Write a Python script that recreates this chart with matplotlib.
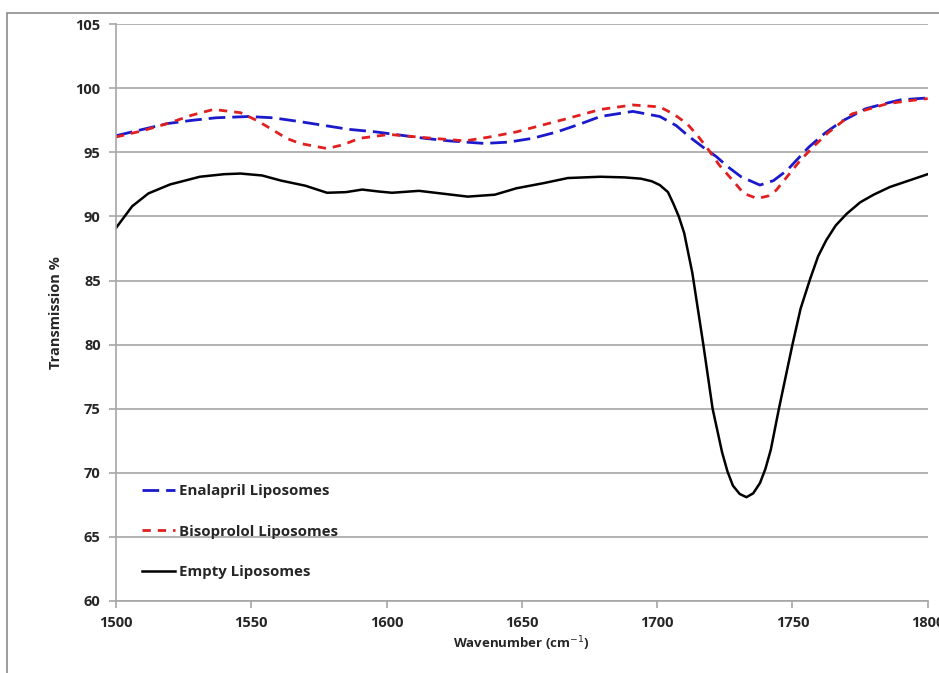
'''
FTIR transmission spectra of liposome formulations.
'''

import matplotlib
matplotlib.use('Agg')
import matplotlib.pyplot as plt
from matplotlib.patches import Rectangle


EMPTY_WN = [1500, 1506, 1512, 1520, 1531, 1540, 1546, 1554, 1561, 1570, 1578,
            1585, 1591, 1597, 1602, 1612, 1620, 1630, 1640, 1648, 1658, 1667,
            1679, 1688, 1694, 1698, 1701, 1704, 1706, 1708, 1710, 1713, 1717,
            1720.5, 1724, 1726, 1728, 1730.5, 1733, 1735.5, 1738, 1740, 1742,
            1745, 1750, 1753, 1756.5, 1759.5, 1762.5, 1766, 1770, 1775, 1780,
            1786, 1793, 1800]
EMPTY_T = [89.1, 90.8, 91.8, 92.5, 93.1, 93.3, 93.35, 93.2, 92.8, 92.4, 91.85,
           91.9, 92.1, 91.95, 91.85, 92.0, 91.8, 91.55, 91.7, 92.2, 92.6, 93.0,
           93.1, 93.05, 92.95, 92.75, 92.45, 91.9, 91.0, 90.0, 88.7, 85.6, 80.1,
           75.0, 71.6, 70.1, 69.0, 68.35, 68.1, 68.4, 69.2, 70.3, 71.8, 75.0,
           80.0, 82.8, 85.1, 86.9, 88.15, 89.3, 90.2, 91.1, 91.7, 92.3, 92.8,
           93.3]

ENALAPRIL_WN = [1500, 1510, 1519, 1528, 1537, 1549, 1558, 1568, 1577, 1586,
                1596, 1605, 1614, 1623, 1636, 1645, 1654, 1663, 1672, 1679,
                1691, 1701, 1707, 1712, 1717, 1722, 1726, 1731, 1738, 1743,
                1748, 1752, 1756, 1762, 1768, 1777, 1784, 1790, 1800]
ENALAPRIL_T = [96.3, 96.8, 97.25, 97.5, 97.7, 97.8, 97.7, 97.4, 97.1, 96.8,
               96.6, 96.35, 96.1, 95.9, 95.7, 95.8, 96.1, 96.6, 97.25, 97.8,
               98.2, 97.8, 97.1, 96.2, 95.4, 94.65, 93.9, 93.1, 92.45, 92.8,
               93.6, 94.5, 95.4, 96.5, 97.4, 98.4, 98.8, 99.1, 99.25]

BISOPROLOL_WN = [1500, 1510, 1519, 1528, 1536, 1546, 1552, 1558, 1563, 1568,
                 1578, 1584, 1590, 1601, 1609, 1617, 1629, 1638, 1648, 1657,
                 1667, 1679, 1691, 1701, 1706, 1711, 1715, 1719, 1723, 1728,
                 1732, 1737, 1741, 1744, 1748, 1753, 1758, 1763, 1772, 1785,
                 1792, 1800]
BISOPROLOL_T = [96.2, 96.7, 97.25, 97.9, 98.35, 98.1, 97.5, 96.75, 96.1, 95.7,
                95.3, 95.6, 96.1, 96.4, 96.25, 96.1, 95.9, 96.2, 96.6, 97.1,
                97.65, 98.35, 98.7, 98.55, 98.0, 97.25, 96.3, 95.2, 94.0, 92.8,
                91.8, 91.4, 91.6, 92.05, 93.1, 94.4, 95.5, 96.5, 98.0, 98.8,
                99.0, 99.2]

X_TICKS = [1500, 1550, 1600, 1650, 1700, 1750, 1800]
Y_TICKS = [60, 65, 70, 75, 80, 85, 90, 95, 100, 105]

GRID_GREY = '#a6a6a6'
TEXT_COLOR = '#262626'


def main() -> None:
    '''
    Draw the three spectra and save them.
    '''
    plt.rcParams['font.family'] = ['Open Sans', 'DejaVu Sans']
    fig = plt.figure(figsize=(9.39, 6.73), dpi=100)
    ax = fig.add_axes([0.1235, 0.107, 0.8645, 0.857])

    # outer chart frame
    fig.patches.append(Rectangle(
        (0.0075, -0.01), 1.1, 0.9907,
        transform=fig.transFigure, fill=False,
        edgecolor='#8c8c8c', linewidth=1.2,
    ))

    ax.plot(ENALAPRIL_WN, ENALAPRIL_T, color='#1a1acc', linewidth=2.0,
            dashes=(6, 2.5), label='Enalapril Liposomes')
    ax.plot(BISOPROLOL_WN, BISOPROLOL_T, color='#e02020', linewidth=2.0,
            dashes=(3, 2.5), label='Bisoprolol Liposomes')
    ax.plot(EMPTY_WN, EMPTY_T, color='black', linewidth=1.8,
            label='Empty Liposomes')

    ax.set_xlim(1500, 1800)
    ax.set_ylim(60, 105)
    ax.set_xticks(X_TICKS)
    ax.set_yticks(Y_TICKS)
    ax.yaxis.grid(True, color=GRID_GREY, linewidth=1.2)
    ax.set_axisbelow(True)
    for side in ['top', 'right']:
        ax.spines[side].set_visible(False)
    for side in ['left', 'bottom']:
        ax.spines[side].set_color(GRID_GREY)
        ax.spines[side].set_linewidth(1.2)
    ax.tick_params(axis='both', color=GRID_GREY, length=5, width=1.2,
                   labelsize=10.5, pad=6)
    for lbl in ax.get_xticklabels() + ax.get_yticklabels():
        lbl.set_fontweight('bold')
        lbl.set_color(TEXT_COLOR)

    ax.set_xlabel('Wavenumber (cm$^{-1}$)', fontsize=9.5, fontweight='bold',
                  color=TEXT_COLOR, labelpad=3)
    ax.set_ylabel('Transmission %', fontsize=10.5, fontweight='bold',
                  color=TEXT_COLOR, labelpad=9)

    leg = ax.legend(loc='lower left', bbox_to_anchor=(0.015, 0.015),
                    frameon=False, fontsize=10.8, handlelength=2.2,
                    handletextpad=0.3, labelspacing=1.75)
    for txt in leg.get_texts():
        txt.set_fontweight('bold')
        txt.set_color(TEXT_COLOR)

    fig.savefig('out.png', dpi=100)


if __name__ == "__main__":
    main()
